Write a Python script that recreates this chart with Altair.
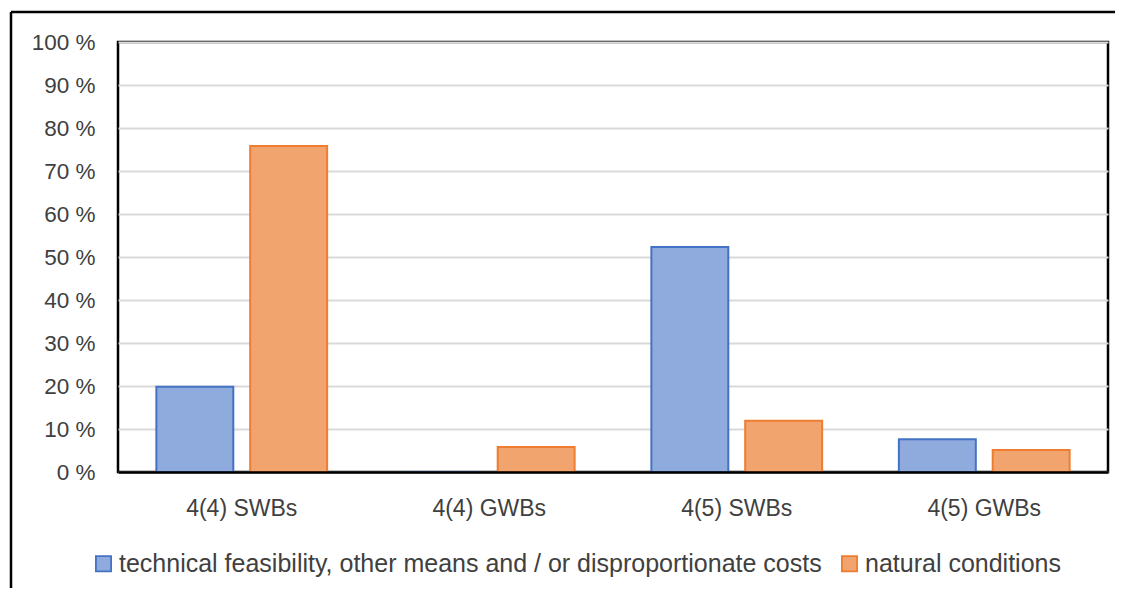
import altair as alt
import pandas as pd

categories = ["4(4) SWBs", "4(4) GWBs", "4(5) SWBs", "4(5) GWBs"]
series = ["technical feasibility, other means and / or disproportionate costs", "natural conditions"]
tech_values = [19.8, 0.0, 52.3, 7.6]
natural_values = [75.8, 5.8, 11.9, 5.1]
y_ticks = [0, 10, 20, 30, 40, 50, 60, 70, 80, 90, 100]

fill_colors = ["#8FAADC", "#F2A46F"]
stroke_colors = ["#4472C4", "#ED7D31"]

rows = []
for c, t, n in zip(categories, tech_values, natural_values):
    rows.append({"category": c, "series": series[0], "value": t})
    rows.append({"category": c, "series": series[1], "value": n})
df = pd.DataFrame(rows)

FONT = "Liberation Sans"
TEXT = "#404040"

legend = alt.Legend(
    title=None, orient="none", legendX=-27, legendY=509, direction="horizontal",
    symbolType="square", symbolSize=230, symbolStrokeWidth=1.8,
    labelFont=FONT, labelFontSize=25, labelColor=TEXT, labelOffset=3,
    columnPadding=15, padding=0, labelLimit=1000,
)

bars = alt.Chart(df).mark_bar(strokeWidth=2).encode(
    x=alt.X("category:N", sort=categories, title=None,
            scale=alt.Scale(paddingInner=0.31, paddingOuter=0.155),
            axis=alt.Axis(labelAngle=0, ticks=False, labelPadding=25, labelFont=FONT,
                          labelFontSize=23, labelColor=TEXT, domainColor="black",
                          domainWidth=2.5, zindex=1)),
    xOffset=alt.XOffset("series:N", sort=series,
                        scale=alt.Scale(paddingInner=0.18, paddingOuter=0)),
    y=alt.Y("value:Q", title=None,
            scale=alt.Scale(domain=[0, 100], nice=False),
            axis=alt.Axis(values=y_ticks, labelExpr="datum.value + ' %'", ticks=False,
                          domain=False, labelPadding=23, labelFont=FONT, labelFontSize=22.5,
                          labelColor=TEXT, gridColor="#D9D9D9", gridWidth=2)),
    fill=alt.Fill("series:N", sort=series,
                  scale=alt.Scale(domain=series, range=fill_colors), legend=legend),
    stroke=alt.Stroke("series:N", sort=series,
                      scale=alt.Scale(domain=series, range=stroke_colors), legend=legend),
)

frame_data = alt.Data(values=[{}])
top_rule = alt.Chart(frame_data).mark_rule(color="black", strokeWidth=2.5).encode(
    x=alt.value(-107), x2=alt.value(1020), y=alt.value(-30))
left_rule = alt.Chart(frame_data).mark_rule(color="black", strokeWidth=2.5).encode(
    x=alt.value(-107), y=alt.value(-30), y2=alt.value(570))

chart = alt.layer(bars, top_rule, left_rule).properties(
    width=990, height=430,
    autosize=alt.AutoSizeParams(type="none"),
    padding={"left": 110, "top": 34, "right": 7, "bottom": 116},
    background="white",
).configure_view(stroke="black", strokeWidth=2.5)

chart.save("out.html", embed_options={"renderer": "svg", "actions": False})
